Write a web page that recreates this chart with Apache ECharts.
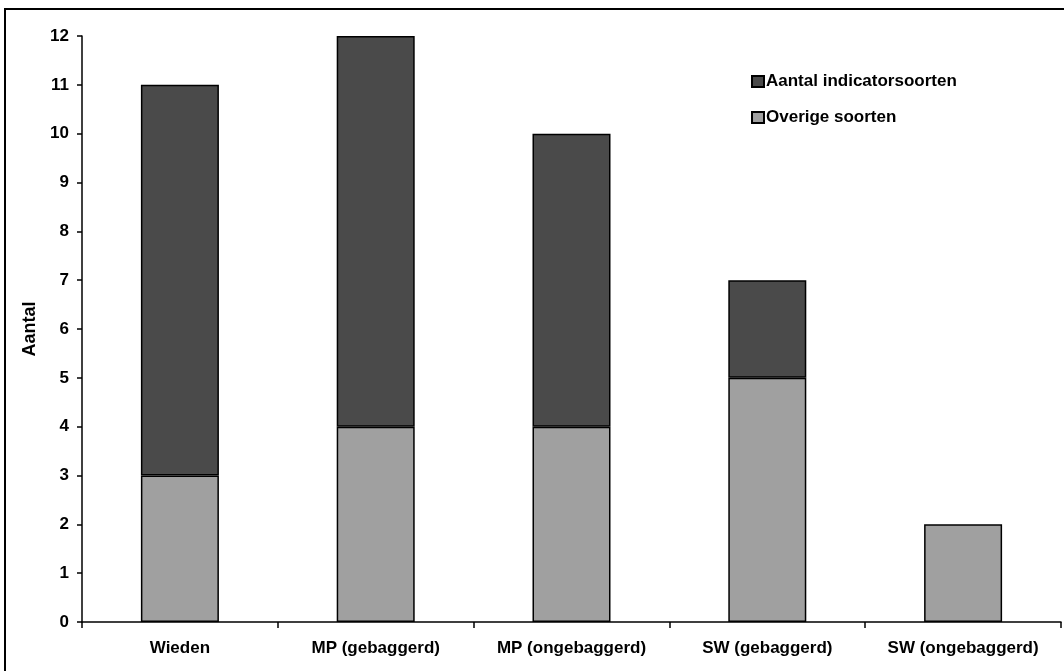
<!DOCTYPE html>
<html>
<head>
<meta charset="utf-8">
<script src="https://cdn.jsdelivr.net/npm/echarts@6/dist/echarts.min.js"></script>
<style>
html,body{margin:0;padding:0;background:#fff;}
#c{width:1064px;height:671px;}
</style>
</head>
<body>
<div id="c"></div>
<script>
const categories = ['Wieden', 'MP (gebaggerd)', 'MP (ongebaggerd)', 'SW (gebaggerd)', 'SW (ongebaggerd)'];
const overigeSoorten = [3, 4, 4, 5, 2];
const indicatorSoorten = [8, 8, 6, 2, 0];
const seriesNames = ['Aantal indicatorsoorten', 'Overige soorten'];
const yAxisName = 'Aantal';

const font = 'Arial, "Liberation Sans", sans-serif';
const chart = echarts.init(document.getElementById('c'));
chart.setOption({
  animation: false,
  backgroundColor: '#fff',
  graphic: [{
    type: 'rect', shape: {x: 5, y: 9, width: 1100, height: 700},
    style: {fill: 'none', stroke: '#000', lineWidth: 2}, z: -1
  }],
  grid: {left: 82, right: 3, top: 36, bottom: 49, containLabel: false},
  legend: {
    orient: 'vertical', left: 746, top: 68, itemWidth: 12, itemHeight: 11, itemGap: 19,
    icon: 'rect',
    data: seriesNames,
    textStyle: {fontFamily: font, fontWeight: 'bold', fontSize: 17, color: '#000', padding: [0,0,0,-3]}
  },
  xAxis: {
    type: 'category', data: categories,
    axisLine: {lineStyle: {color: '#000', width: 1.5}},
    axisTick: {show: true, interval: 0, length: 6, lineStyle: {color: '#000', width: 1.5}},
    axisLabel: {interval: 0, fontFamily: font, fontWeight: 'bold', fontSize: 17, color: '#000', margin: 18}
  },
  yAxis: {
    type: 'value', min: 0, max: 12, interval: 1,
    name: yAxisName, nameLocation: 'middle', nameGap: 41, nameRotate: 90,
    nameTextStyle: {fontFamily: font, fontWeight: 'bold', fontSize: 18, color: '#000'},
    axisLine: {show: true, lineStyle: {color: '#000', width: 1.5}},
    axisTick: {show: true, length: 5, lineStyle: {color: '#000', width: 1.5}},
    splitLine: {show: false},
    axisLabel: {fontFamily: font, fontWeight: 'bold', fontSize: 17, color: '#000', margin: 13}
  },
  series: [
    {
      name: seriesNames[1], type: 'bar', stack: 'a', barWidth: 78, data: overigeSoorten,
      itemStyle: {color: '#a0a0a0', borderColor: '#000', borderWidth: 1.5}
    },
    {
      name: seriesNames[0], type: 'bar', stack: 'a', barWidth: 78,
      data: indicatorSoorten.map(v => v === 0 ? null : v),
      itemStyle: {color: '#4a4a4a', borderColor: '#000', borderWidth: 1.5}
    }
  ]
});
</script>
</body>
</html>
